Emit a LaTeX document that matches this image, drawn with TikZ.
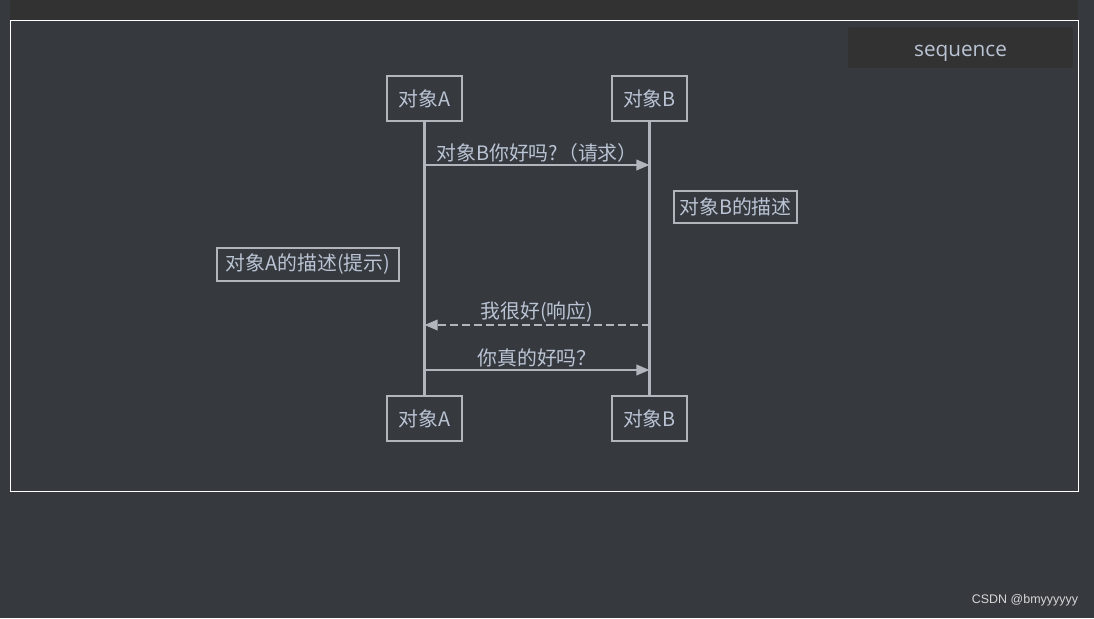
\documentclass[tikz,border=0pt]{standalone}
\usepackage{fontspec}
\setmainfont{Liberation Serif}
\newfontfamily\cjk{Noto Sans CJK SC}
\newfontfamily\uisans{Open Sans}
\newfontfamily\marksans{Liberation Sans}
\usepackage{tikz}
\usetikzlibrary{arrows.meta, positioning, calc}

\definecolor{canvasbg}{RGB}{54,57,62}
\definecolor{bandbg}{RGB}{50,50,50}
\definecolor{umlline}{RGB}{178,182,188}
\definecolor{umltext}{RGB}{186,196,212}

\begin{document}
\begin{tikzpicture}[
	x=0.02cm, y=-0.02cm,
	actor/.style={rectangle,draw=umlline,line width=1.2pt,minimum width=1.5cm,minimum height=0.9cm,inner sep=0pt,text=umltext,font=\cjk\fontsize{11.3}{13}\selectfont},
	note/.style={rectangle,draw=umlline,line width=1.2pt,inner sep=0pt,minimum height=0.65cm,text=umltext,font=\cjk\fontsize{11.3}{13}\selectfont},
	lifeline/.style={draw=umlline,line width=1.2pt},
	msg/.style={draw=umlline,line width=1.2pt,-{Triangle[length=7.5pt,width=6pt]}},
	reply/.style={msg,dash pattern=on 4.5pt off 2.3pt},
	msglabel/.style={midway,above=0pt,inner sep=1pt,text=umltext,font=\cjk\fontsize{11.3}{13}\selectfont}
]

% background and frame
\fill[canvasbg] (0,0) rectangle (1094,618);
\useasboundingbox (0,0) rectangle (1094,618);
\fill[bandbg] (10,0) rectangle (1078,20);
\draw[white,line width=0.45pt] (10,20.5) rectangle (1078,491);

% title tab
\node[fill=bandbg,rounded corners=1pt,minimum width=4.5cm,minimum height=0.82cm,text height=10.5pt,text depth=0pt,text=umltext,font=\uisans\fontsize{11.8}{13}\selectfont] (tab) at (960.5,47.5) {sequence};

% actors
\node[actor] (aTop) at (424.5,98.5) {对象A};
\node[actor] (bTop) at (649.5,98.5) {对象B};
\node[actor] (aBot) at (424.5,418.5) {对象A};
\node[actor] (bBot) at (649.5,418.5) {对象B};

% lifelines
\draw[lifeline] (aTop) -- (aBot);
\draw[lifeline] (bTop) -- (bBot);

% notes
\node[note,minimum width=2.46cm] (noteB) at (735.5,207) {对象B的描述};
\node[note,minimum width=3.64cm] (noteA) at (308,264.5) {对象A的描述(提示)};

% message ends
\coordinate (a1) at (424.5,165);
\coordinate (b1) at (649.5,165);
\coordinate (a2) at (424.5,325);
\coordinate (b2) at (649.5,325);
\coordinate (a3) at (424.5,370);
\coordinate (b3) at (649.5,370);

% messages
\draw[msg] (a1) -- (b1) node[msglabel] {对象B你好吗?（请求）};
\draw[reply] (b2) -- (a2) node[msglabel] {我很好(响应)};
\draw[msg] (a3) -- (b3) node[msglabel] {你真的好吗？};

% watermark
\node[text=white!80!canvasbg,font=\marksans\fontsize{7.1}{9}\selectfont] (mark) at (1025,600) {CSDN @bmyyyyyy};

\end{tikzpicture}
\end{document}
